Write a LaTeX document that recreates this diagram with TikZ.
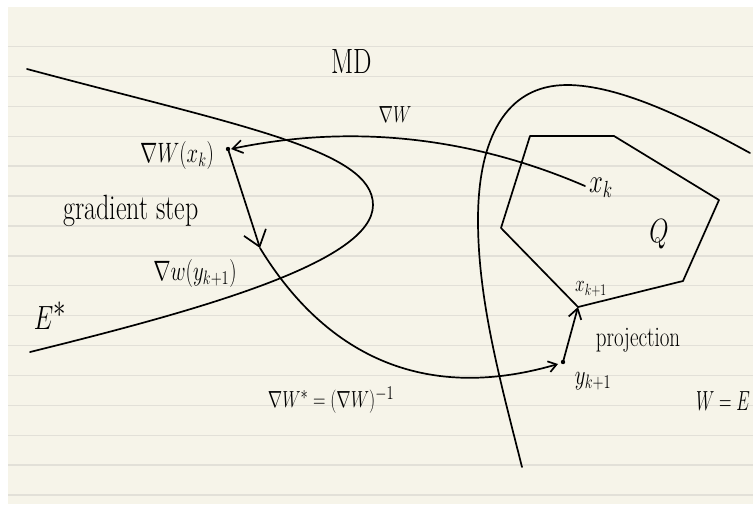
\documentclass[tikz,border=0pt]{standalone}
\usepackage{graphicx}
\usetikzlibrary{arrows.meta}
\definecolor{paper}{HTML}{F6F4E9}
\definecolor{rulecol}{HTML}{E2E0D8}
\newcommand{\tallv}[1]{\scalebox{1}[1.35]{#1}}
\begin{document}
\begin{tikzpicture}[x=1pt,y=-1pt,line cap=round,line join=round,
  ink/.style={line width=1.7pt,black},
  ruling/.style={rulecol,line width=1.4pt,line cap=butt},
  lbl/.style={inner sep=0pt,black},
  bigtip/.style={-{Straight Barb[length=15pt,width=23pt,line width=1.7pt]}},
  midtip/.style={-{Straight Barb[length=10pt,width=13pt,line width=1.7pt]}},
  smalltip/.style={-{Straight Barb[length=8pt,width=11pt,line width=1.7pt]}}]
\useasboundingbox (0,0) rectangle (753,504);
\fill[white] (0,0) rectangle (753,504);
\fill[paper] (8,7) rectangle (753,504);
\foreach \k in {0,...,15} \draw[ruling] (8,{46.5+29.9*\k}) -- (753,{46.5+29.9*\k});

% key points
\coordinate (dotA) at (228,149);
\coordinate (tipA) at (231,149);
\coordinate (stepEnd) at (260,248);
\coordinate (dotB) at (563,362);
\coordinate (tipB) at (558,364);
\coordinate (xkone) at (578,307);
\coordinate (xkpt) at (585,186);

% E* region (left)
\draw[ink] (27,69) .. controls (240,126) and (373,150) .. (373,205)
  .. controls (373,262) and (200,310) .. (30,352);

% W=E region (right)
\draw[ink] (522,467) .. controls (500,380) and (478,300) .. (478,220)
  .. controls (478,140) and (505,85) .. (567,85)
  .. controls (620,85) and (690,120) .. (750,153);

% polygon Q
\draw[ink] (530,136) -- (614,136) -- (719,200) -- (683,281) -- (xkone) -- (501,228) -- cycle;

% arrows
\draw[ink,midtip] (xkpt) .. controls (490,145) and (370,120) .. (tipA);
\draw[ink,bigtip] (dotA) -- (stepEnd);
\draw[ink,smalltip] (stepEnd) .. controls (310,330) and (400,410) .. (tipB);
\draw[ink,midtip] (dotB) -- (xkone);
\fill (dotA) circle (2.2pt);
\fill (dotB) circle (2.2pt);

% labels
\node[lbl,font=\fontsize{26}{30}\selectfont] (md) at (352,62) {\tallv{MD}};
\node[lbl,font=\fontsize{18}{22}\selectfont] (gw) at (395,115) {\tallv{$\nabla W$}};
\node[lbl,font=\fontsize{20}{24}\selectfont] (gwxk) at (177,155) {\tallv{$\nabla W(x_k)$}};
\node[lbl,font=\fontsize{26}{30}\selectfont] (gs) at (131,211) {\tallv{gradient step}};
\node[lbl,font=\fontsize{20}{24}\selectfont] (gwyk) at (195,273) {\tallv{$\nabla w(y_{k+1})$}};
\node[lbl,font=\fontsize{34}{38}\selectfont] (es) at (50,316) {\tallv{$E^*$}};
\node[lbl,font=\fontsize{24}{28}\selectfont] (xk) at (601,188) {\tallv{$x_k$}};
\node[lbl,font=\fontsize{30}{34}\selectfont] (q) at (659,234) {\tallv{$Q$}};
\node[lbl,font=\fontsize{18}{21}\selectfont] (xk1) at (591,289) {\tallv{$x_{k+1}$}};
\node[lbl,font=\fontsize{21}{25}\selectfont] (proj) at (638,340) {\tallv{projection}};
\node[lbl,font=\fontsize{20}{24}\selectfont] (yk1) at (593,381) {\tallv{$y_{k+1}$}};
\node[lbl,font=\fontsize{19}{23}\selectfont] (inv) at (331,400) {\tallv{$\nabla W^{*}=(\nabla W)^{-1}$}};
\node[lbl,font=\fontsize{17}{21}\selectfont] (we) at (723,401) {\scalebox{1}[1.6]{$W=E$}};
\end{tikzpicture}
\end{document}
